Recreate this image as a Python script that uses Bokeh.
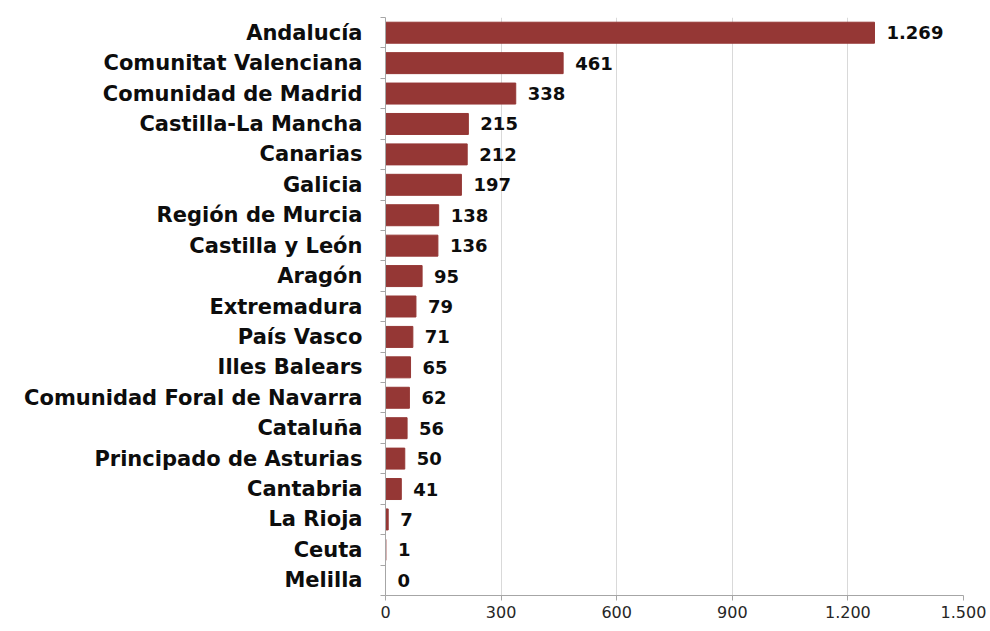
from bokeh.plotting import figure
from bokeh.models import (Range1d, LinearAxis, FixedTicker, ColumnDataSource,
                          LabelSet)
from bokeh.core.properties import value
from bokeh.embed import file_html
from bokeh.resources import INLINE

regions = ["Andalucía", "Comunitat Valenciana", "Comunidad de Madrid",
           "Castilla-La Mancha", "Canarias", "Galicia", "Región de Murcia",
           "Castilla y León", "Aragón", "Extremadura", "País Vasco",
           "Illes Balears", "Comunidad Foral de Navarra", "Cataluña",
           "Principado de Asturias", "Cantabria", "La Rioja", "Ceuta", "Melilla"]
counts = [1269, 461, 338, 215, 212, 197, 138, 136, 95, 79, 71, 65, 62, 56,
          50, 41, 7, 1, 0]
count_labels = ["1.269", "461", "338", "215", "212", "197", "138", "136", "95",
                "79", "71", "65", "62", "56", "50", "41", "7", "1", "0"]
x_ticks = [0, 300, 600, 900, 1200, 1500]
x_tick_labels = ["0", "300", "600", "900", "1.200", "1.500"]

FONT = "DejaVu Sans"
BAR = "#953735"
AXIS = "#a6a6a6"

n = len(regions)
# row centres (first category at the top) and row boundaries
ypos = [n - i - 0.5 for i in range(n)]
bounds = list(range(n + 1))

source = ColumnDataSource(dict(y=ypos, region=regions, count=counts,
                               label=count_labels))

p = figure(y_range=Range1d(0, n),
           x_range=Range1d(x_ticks[0], x_ticks[-1]),
           width=990, height=631,
           min_border_left=385, min_border_right=27,
           min_border_top=17, min_border_bottom=36,
           y_axis_location=None,
           output_backend="svg", toolbar_location=None)
p.outline_line_color = None
p.background_fill_color = "white"
p.ygrid.visible = False
p.xgrid.grid_line_color = "#d9d9d9"
p.xgrid.grid_line_width = 1

# x axis
xa = p.xaxis[0]
xa.ticker = FixedTicker(ticks=x_ticks)
xa.major_label_overrides = {t: l for t, l in zip(x_ticks, x_tick_labels)}
xa.axis_line_color = AXIS
xa.major_tick_line_color = AXIS
xa.major_tick_in = 0
xa.major_tick_out = 5
xa.minor_tick_line_color = None
xa.major_label_standoff = 5
xa.major_label_text_font = FONT
xa.major_label_text_font_size = "16px"
xa.major_label_text_color = "#262626"

# y axis: labels at row centres, small ticks at row boundaries
ya = LinearAxis(ticker=FixedTicker(ticks=ypos, minor_ticks=bounds),
                major_label_overrides={y: r for y, r in zip(ypos, regions)},
                axis_line_color=AXIS,
                major_tick_line_color=None,
                major_tick_in=0, major_tick_out=0,
                minor_tick_line_color=AXIS,
                minor_tick_in=0, minor_tick_out=5,
                major_label_standoff=18,
                major_label_text_font=FONT,
                major_label_text_font_style="bold",
                major_label_text_font_size="21px",
                major_label_text_color="#0d0d0d")
p.add_layout(ya, "left")

p.hbar(y="y", right="count", height=0.69, source=source,
       fill_color=BAR, line_color=BAR)

labels = LabelSet(x="count", y="y", text="label", source=source,
                  x_offset=12, text_baseline="middle",
                  text_font=value(FONT), text_font_style="bold",
                  text_font_size="18px", text_color="#0d0d0d")
p.add_layout(labels)

open("out.html", "w").write(file_html(p, INLINE))
